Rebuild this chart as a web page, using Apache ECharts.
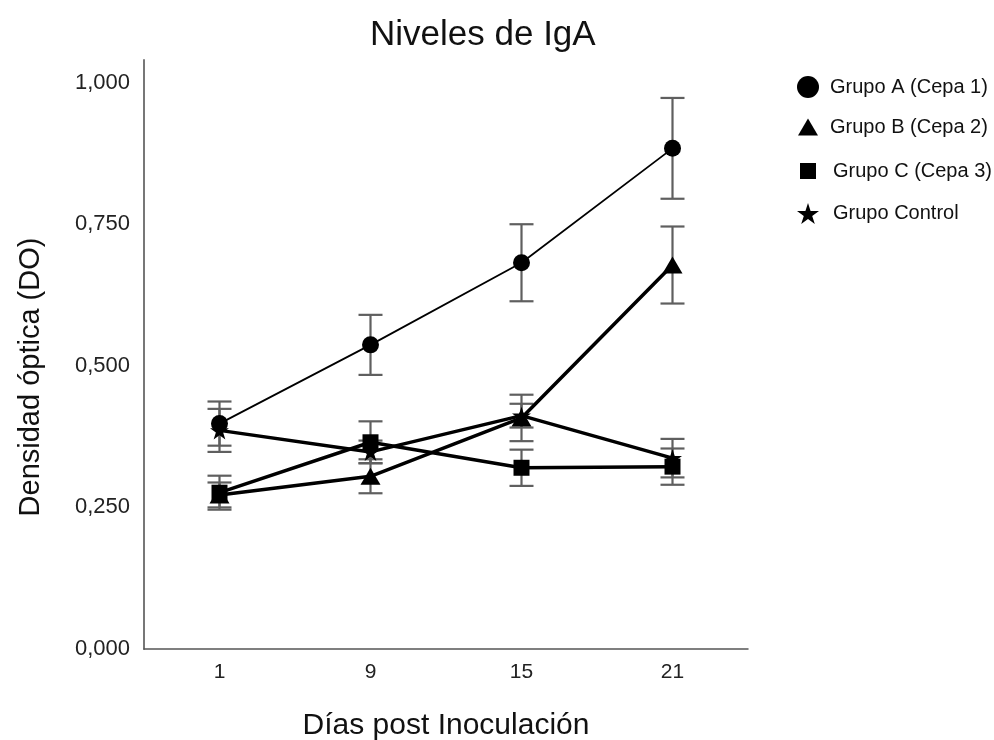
<!DOCTYPE html>
<html>
<head>
<meta charset="utf-8">
<script src="https://cdn.jsdelivr.net/npm/echarts@6/dist/echarts.min.js"></script>
<style>html,body{margin:0;padding:0;background:#fff}#c{width:994px;height:740px}</style>
</head>
<body>
<div id="c"></div>
<script>
const days = ['1', '9', '15', '21'];
const groupA = [0.398, 0.537, 0.682, 0.884];
const groupAErr = [0.039, 0.053, 0.068, 0.089];
const groupB = [0.272, 0.305, 0.408, 0.678];
const groupBErr = [0.022, 0.030, 0.041, 0.068];
const groupC = [0.276, 0.365, 0.320, 0.322];
const groupCErr = [0.030, 0.037, 0.032, 0.032];
const control = [0.386, 0.348, 0.412, 0.337];
const controlErr = [0.038, 0.020, 0.021, 0.034];
const yTicks = [0, 0.25, 0.5, 0.75, 1.0];
const yTickLabels = ['0,000', '0,250', '0,500', '0,750', '1,000'];
const names = ['Grupo A (Cepa 1)', 'Grupo B (Cepa 2)', 'Grupo C (Cepa 3)', 'Grupo Control'];

const STAR = 'path://M50,0L61.2,34.5L97.6,34.5L68.2,55.9L79.4,90.5L50,69.1L20.6,90.5L31.8,55.9L2.4,34.5L38.8,34.5Z';
const FONT = 'Liberation Sans, Arial, sans-serif';

function errData(vals, errs) {
  return vals.map((v, i) => [i, v - errs[i], v + errs[i]]);
}
function errRender(params, api) {
  const i = api.value(0);
  const lo = api.coord([i, api.value(1)]);
  const hi = api.coord([i, api.value(2)]);
  const hw = 12;
  const style = { stroke: '#5f5f5f', lineWidth: 2.2 };
  return {
    type: 'group',
    children: [
      { type: 'line', shape: { x1: lo[0], y1: lo[1], x2: hi[0], y2: hi[1] }, style: style },
      { type: 'line', shape: { x1: lo[0] - hw, y1: lo[1], x2: lo[0] + hw, y2: lo[1] }, style: style },
      { type: 'line', shape: { x1: hi[0] - hw, y1: hi[1], x2: hi[0] + hw, y2: hi[1] }, style: style }
    ]
  };
}
function errSeries(vals, errs) {
  return {
    type: 'custom', renderItem: errRender, data: errData(vals, errs),
    encode: { x: 0, y: [1, 2] }, z: 1, silent: true
  };
}
function lineSeries(name, vals, symbol, size, width) {
  return {
    name: name, type: 'line', data: vals, symbol: symbol, symbolSize: size,
    showSymbol: true, z: 3,
    lineStyle: { color: '#000', width: width },
    itemStyle: { color: '#000' }
  };
}
const legendIcons = ['circle', 'triangle', 'rect', STAR];
const legendSizes = [[22, 22], [20, 17], [16, 16], [22, 21]];
const legendTops = [71, 112, 156, 198];
const legendPads = [6, 7, 12, 9];
const legends = names.map((n, k) => ({
  data: [{ name: n, icon: legendIcons[k] }],
  left: 803 - legendSizes[k][0] / 2,
  top: legendTops[k],
  itemWidth: legendSizes[k][0],
  itemHeight: legendSizes[k][1],
  selectedMode: false,
  itemStyle: { color: '#000' },
  textStyle: { fontSize: 20, color: '#111', fontFamily: FONT, padding: [0, 0, 0, legendPads[k]] }
}));

const chart = echarts.init(document.getElementById('c'));
chart.setOption({
  animation: false,
  backgroundColor: '#fff',
  title: {
    text: 'Niveles de IgA', left: 365, top: 13,
    textStyle: { fontSize: 35, fontWeight: 'normal', color: '#111', fontFamily: FONT }
  },
  legend: legends,
  grid: { left: 144, right: 246, top: 60, bottom: 91, containLabel: false, outerBoundsMode: 'none' },
  xAxis: {
    type: 'category', data: days, boundaryGap: true,
    name: 'Días post Inoculación', nameLocation: 'middle', nameGap: 62,
    nameTextStyle: { fontSize: 30, color: '#111', fontFamily: FONT },
    axisLine: { lineStyle: { color: '#555', width: 1.5 } },
    axisTick: { show: false },
    axisLabel: { fontSize: 21, color: '#222', margin: 13, fontFamily: FONT },
    splitLine: { show: false }
  },
  yAxis: {
    type: 'value', min: 0, max: 1.04, interval: 0.25,
    name: 'Densidad óptica (DO)', nameLocation: 'middle', nameGap: 99,
    nameTextStyle: { fontSize: 29, color: '#111', fontFamily: FONT, padding: [0, 45, 0, 0] },
    axisLine: { show: true, lineStyle: { color: '#777', width: 2 } },
    axisTick: { show: false },
    splitLine: { show: false },
    axisLabel: {
      fontSize: 22, color: '#222', margin: 14, fontFamily: FONT,
      formatter: function (v) {
        const k = yTicks.findIndex(t => Math.abs(t - v) < 1e-6);
        return k >= 0 ? yTickLabels[k] : '';
      }
    }
  },
  series: [
    errSeries(groupA, groupAErr),
    errSeries(groupB, groupBErr),
    errSeries(groupC, groupCErr),
    errSeries(control, controlErr),
    lineSeries(names[0], groupA, 'circle', 17, 1.8),
    lineSeries(names[1], groupB, 'triangle', [20, 17], 3.5),
    lineSeries(names[2], groupC, 'rect', 16, 3.5),
    lineSeries(names[3], control, STAR, [19, 18], 3.5)
  ]
});
</script>
</body>
</html>
